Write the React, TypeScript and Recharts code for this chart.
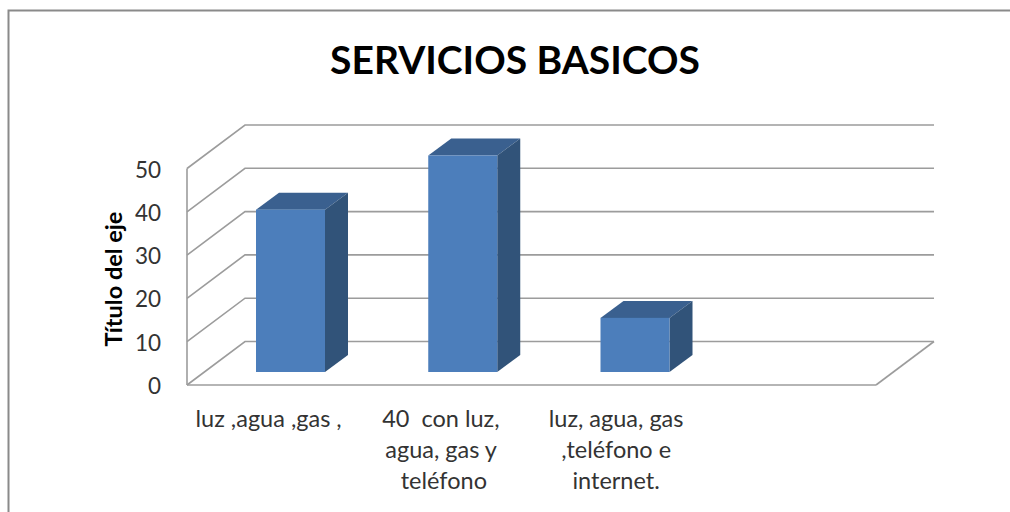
import React from 'react';
import { BarChart, Bar, XAxis, YAxis, CartesianGrid } from 'recharts';

const categories = ['luz ,agua ,gas , ', '40  con luz, \nagua, gas y \nteléfono', 'luz, agua, gas\n,teléfono e\ninternet.', ' '];
const servicios = [37.5, 50, 12.5, null];
const yTicks = [0, 10, 20, 30, 40, 50];
const chartTitle = 'SERVICIOS BASICOS';
const yTitle = 'Título del eje';

const data = categories.map((name, i) => ({ name, value: servicios[i] }));

const FONT = 'Lato, sans-serif';
const GRID = '#9c9c9c';
const WALL_DX = 58;
const WALL_DY = 43.5;
const BAR_DX = 23;
const BAR_DY = 17;
const BAR_SHIFT_X = 17;
const BAR_SHIFT_Y = 13;

const gridLine = (p: any) => {
  const { x1, x2, y1 } = p;
  const isFloor = Math.abs(y1 - 385) < 1;
  return (
    <g key={p.key ?? p.index}>
      <polyline
        points={`${x1},${y1} ${x1 + WALL_DX},${y1 - WALL_DY} ${x2 + WALL_DX},${y1 - WALL_DY}`}
        fill="none"
        stroke={GRID}
        strokeWidth={1.6}
      />
      {isFloor && (
        <line x1={x2} y1={y1} x2={x2 + WALL_DX} y2={y1 - WALL_DY} stroke={GRID} strokeWidth={1.6} />
      )}
    </g>
  );
};

const Bar3D = (p: any) => {
  const { x, y, width, height } = p;
  if (!height) return null;
  const l = x + BAR_SHIFT_X;
  const r = l + width;
  const t = y - BAR_SHIFT_Y;
  const b = t + height;
  return (
    <g>
      <polygon points={`${l},${t} ${l + BAR_DX},${t - BAR_DY} ${r + BAR_DX},${t - BAR_DY} ${r},${t}`} fill="#3a608f" />
      <polygon points={`${r},${t} ${r + BAR_DX},${t - BAR_DY} ${r + BAR_DX},${b - BAR_DY} ${r},${b}`} fill="#315379" />
      <rect x={l} y={t} width={width} height={height} fill="#4c7ebb" />
    </g>
  );
};

const CategoryTick = (p: any) => {
  const lines = String(p.payload.value).split('\n');
  return (
    <text
      x={p.x}
      y={0}
      textAnchor="middle"
      fontFamily={FONT}
      fontSize={23.5}
      fill="#333333"
      style={{ whiteSpace: 'pre' }}
    >
      {lines.map((t, i) => (
        <tspan key={i} x={p.x - 1.5} y={427 + i * 31}>
          {t}
        </tspan>
      ))}
    </text>
  );
};

const ValueTick = (p: any) => (
  <text x={p.x} y={p.y + 9} textAnchor="end" fontFamily={FONT} fontSize={22.5} fill="#333333">
    {p.payload.value}
  </text>
);

export default function App() {
  return (
    <div style={{ position: 'absolute', left: 0, top: 0, width: 1010, height: 512, background: '#fff' }}>
      <BarChart
        width={1010}
        height={512}
        data={data}
        barSize={69}
        margin={{ top: 168.5, right: 134, bottom: 0, left: 147 }}
      >
        <path d="M8.5,512 L8.5,10.5 L1010,10.5" fill="none" stroke="#8a8a8a" strokeWidth={2} />
        <text x={515} y={74} textAnchor="middle" fontFamily={FONT} fontWeight={700} fontSize={39} fill="#000">
          {chartTitle}
        </text>
        <text
          transform="translate(122,279) rotate(-90)"
          textAnchor="middle"
          fontFamily={FONT}
          fontWeight={700}
          fontSize={23.5}
          fill="#000"
        >
          {yTitle}
        </text>
        <CartesianGrid vertical={false} horizontal={gridLine} />
        <XAxis
          dataKey="name"
          height={127}
          interval={0}
          tickLine={false}
          axisLine={{ stroke: GRID, strokeWidth: 1.6 }}
          tick={<CategoryTick />}
        />
        <YAxis
          width={40}
          domain={[0, 50]}
          ticks={yTicks}
          tickLine={false}
          axisLine={{ stroke: GRID, strokeWidth: 1.6 }}
          tickMargin={20}
          tick={<ValueTick />}
        />
        <Bar dataKey="value" shape={<Bar3D />} isAnimationActive={false} />
      </BarChart>
    </div>
  );
}
